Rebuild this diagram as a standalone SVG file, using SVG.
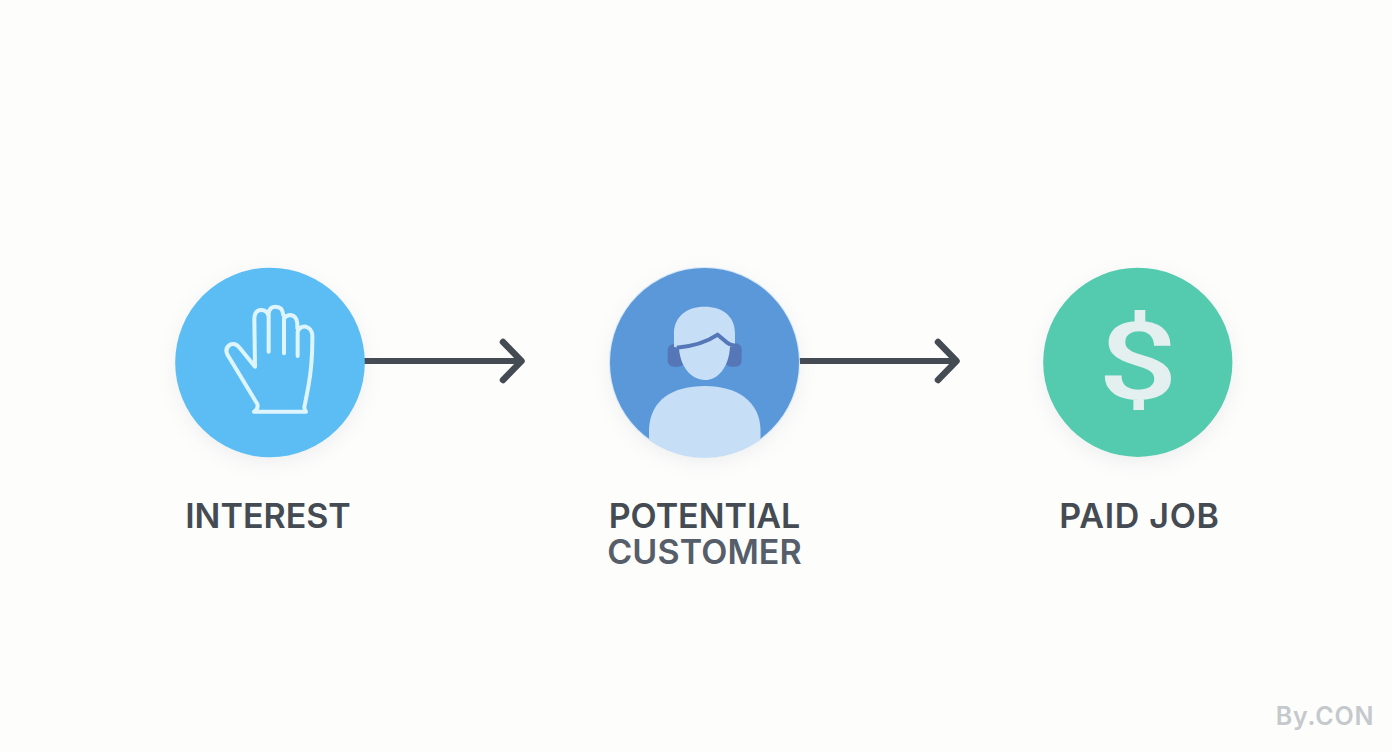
<svg xmlns="http://www.w3.org/2000/svg" width="1392" height="752" viewBox="0 0 1392 752">
<style>
.bg{fill:#fdfdfc}
.shadow{fill:#6b7480;opacity:.13;filter:url(#blur)}
.label{font-family:"Inter","Liberation Sans",sans-serif;font-weight:600;font-size:34px;text-anchor:middle;fill:#454b53}
.soft{fill:#555e69;letter-spacing:.1px}
.conn{stroke:#454b53;stroke-width:6;fill:none;marker-end:url(#arrow)}
.hand{fill:none;stroke:#dff5fd;stroke-width:12;stroke-linejoin:round;stroke-linecap:round}
.skin{fill:#c6def6}
.dark{fill:#5577b8}
</style>
<defs>
<filter id="blur" x="-30%" y="-30%" width="160%" height="160%"><feGaussianBlur stdDeviation="11"/></filter>
<marker id="arrow" markerUnits="userSpaceOnUse" markerWidth="40" markerHeight="50" viewBox="0 0 40 50" refX="30" refY="25" orient="auto">
<path d="M11.5 6 L30 25 L11.5 44" fill="none" stroke="#454b53" stroke-width="6.5" stroke-linecap="round" stroke-linejoin="round"/>
</marker>
<clipPath id="clip2"><circle cx="704.5" cy="362.5" r="95"/></clipPath>
</defs>
<rect class="bg" width="1392" height="752"/>
<g id="connectors">
<line class="conn" x1="364" y1="361" x2="521.5" y2="361"/>
<line class="conn" x1="798" y1="361" x2="956.5" y2="361"/>
</g>
<g id="node-interest">
<circle class="shadow" cx="270" cy="368" r="92"/>
<circle cx="270" cy="362.5" r="94.8" fill="#5bbdf4"/>
<path class="hand" transform="translate(160 250) scale(.33333)" d="M282 485 L438 485 Q430 475 435 462 L445 410 Q458 340 457 255 Q455 235 437 230 Q420 228 413 245 L413 318 M412 235 L412 220 Q410 198 392 195 Q380 195 372 205 L372 310 M370 195 Q368 170 347 170 Q328 170 326 190 L326 305 M326 200 Q322 180 303 180 Q285 180 283 205 L285 350 L240 295 Q228 278 212 283 Q192 295 203 315 L292 462 Q296 478 282 485"/>
<text class="label" x="268" y="528">INTEREST</text>
</g>
<g id="node-potential-customer">
<circle class="shadow" cx="704.5" cy="368" r="92"/>
<circle cx="704.5" cy="362.5" r="95.5" fill="#d3e6f7"/>
<circle cx="704.5" cy="362.5" r="94.5" fill="#5b98d9"/>
<g transform="translate(595 250) scale(.33333)">
<rect class="dark" x="218" y="282" width="50" height="68" rx="18"/>
<rect class="dark" x="390" y="280" width="50" height="70" rx="18"/>
<path class="skin" d="M237 290 L237 250 C237 200 275 170 328 170 C385 170 420 200 420 250 L420 290 L405 290 C402 350 370 390 330 390 C288 390 256 350 252 295 Z"/>
<path d="M245 293 Q320 287 368 254 L395 277 Q405 285 420 287" fill="none" stroke="#5577b8" stroke-width="12" stroke-linejoin="round"/>
</g>
<g clip-path="url(#clip2)"><path class="skin" d="M649 470 L649 428 C651 400 672 386 705 386 C738 386 760 402 760.5 430 L760.5 470 Z"/></g>
<text class="label" x="704.5" y="528">POTENTIAL</text>
<text class="label soft" x="704.5" y="564">CUSTOMER</text>
</g>
<g id="node-paid-job">
<circle class="shadow" cx="1138" cy="368" r="92"/>
<circle cx="1137.8" cy="362.3" r="94.6" fill="#54cbae"/>
<text transform="translate(1137.8 399) scale(1.3 1)" x="0" y="0" font-family="Roboto,'Liberation Sans',sans-serif" font-size="108" font-weight="500" text-anchor="middle" fill="#e4eff0">$</text>
<text class="label" x="1139.5" y="528" style="letter-spacing:.7px">PAID JOB</text>
</g>
<text x="1325" y="725" font-family="Inter,'Liberation Sans',sans-serif" font-size="25" font-weight="600" text-anchor="middle" fill="#c5c9cc" style="letter-spacing:.8px">By.CON</text>
</svg>
